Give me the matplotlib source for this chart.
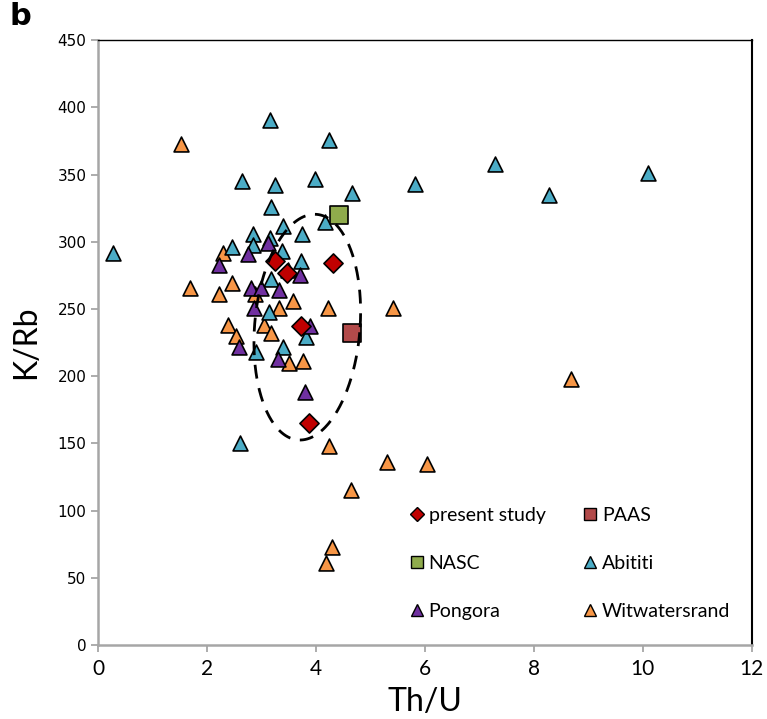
import numpy as np
import matplotlib
matplotlib.use("Agg")
import matplotlib.pyplot as plt
from matplotlib.lines import Line2D

# present study
ps_x = [3.25, 4.31, 3.46, 3.72, 3.88]
ps_y = [286, 284, 277, 237, 165]

paas_x = [4.67]
paas_y = [232]
nasc_x = [4.42]
nasc_y = [320]

abitibi_x = [0.27, 3.15, 4.23, 2.65, 3.24, 3.98, 4.67, 3.17, 4.16, 3.40, 3.75, 2.84,
             3.15, 2.46, 2.84, 3.37, 3.73, 3.48, 3.17, 3.13, 3.81, 3.40, 2.89, 2.61,
             7.29, 10.09, 5.81, 8.28]
abitibi_y = [292, 391, 376, 345, 342, 347, 336, 326, 315, 312, 306, 306,
             303, 296, 298, 293, 286, 279, 272, 248, 229, 222, 218, 150,
             358, 351, 343, 335]

pongora_x = [3.11, 2.75, 2.21, 3.70, 2.81, 2.99, 3.32, 2.87, 3.89, 2.58, 3.30, 3.79]
pongora_y = [299, 291, 283, 275, 266, 266, 264, 251, 237, 222, 213, 188]

witw_x = [1.53, 2.29, 1.68, 2.21, 2.45, 2.88, 3.57, 3.32, 4.22, 2.38, 3.04, 2.54,
          3.18, 3.51, 3.77, 5.42, 4.23, 5.30, 6.03, 4.65, 4.30, 4.19, 8.69]
witw_y = [373, 292, 266, 261, 269, 261, 256, 251, 251, 238, 238, 230,
          232, 210, 211, 251, 148, 136, 135, 115, 73, 61, 198]

# dashed field (center, half-width, half-height, shear)
ell_cx, ell_cy, ell_a, ell_b, ell_shear = 3.84, 236.5, 0.97, 84, 0.0016

fig = plt.figure(figsize=(7.67, 7.19), dpi=100)
ax = fig.add_axes([0.128, 0.103, 0.852, 0.841])

tri_kw = dict(marker='^', s=115, edgecolors='black', linewidths=1.2, zorder=3)
ax.scatter(witw_x, witw_y, c='#f79646', **tri_kw)
ax.scatter(abitibi_x, abitibi_y, c='#4bacc6', **tri_kw)
ax.scatter(pongora_x, pongora_y, c='#7030a0', **tri_kw)
ax.scatter(ps_x, ps_y, marker='D', s=95, c='#c00000', edgecolors='black', linewidths=1.2, zorder=4)
ax.scatter(paas_x, paas_y, marker='s', s=150, c='#b24a4a', edgecolors='black', linewidths=1.2, zorder=4)
ax.scatter(nasc_x, nasc_y, marker='s', s=150, c='#8fab4c', edgecolors='black', linewidths=1.2, zorder=4)

t = np.linspace(0, 2 * np.pi, 300)
ey = ell_cy + ell_b * np.sin(t)
ex = ell_cx + ell_a * np.cos(t) + ell_shear * (ey - ell_cy)
ax.plot(ex, ey, color='black', lw=2, linestyle=(0, (5, 3.5)), zorder=5)

ax.set_xlim(0, 12)
ax.set_ylim(0, 450)
ax.set_xticks(np.arange(0, 13, 2))
ax.set_yticks(np.arange(0, 451, 50))

narrow = ['Lato', 'DejaVu Sans']
for lab in ax.get_xticklabels():
    lab.set_family(narrow)
    lab.set_fontsize(15)
ax.tick_params(axis='y', labelsize=11, length=5, color='#a6a6a6', width=1.3)
ax.tick_params(axis='x', length=5, color='#a6a6a6', width=1.3, pad=5)

for side in ['left', 'bottom']:
    ax.spines[side].set_color('#a6a6a6')
    ax.spines[side].set_linewidth(1.8)
ax.spines['top'].set_linewidth(1.0)
ax.spines['right'].set_linewidth(1.5)

ax.set_xlabel('Th/U', fontsize=23, family=narrow, labelpad=6)
ax.set_ylabel('K/Rb', fontsize=23, family=narrow, labelpad=12)

fig.text(0.012, 0.965, 'b', fontsize=22, fontweight='bold')

def h(marker, color, ms):
    return Line2D([], [], marker=marker, color='none', markerfacecolor=color,
                  markeredgecolor='black', markersize=ms, markeredgewidth=1.0)

handles = [h('D', '#c00000', 7), h('s', '#8fab4c', 9), h('^', '#7030a0', 9),
           h('s', '#b24a4a', 9), h('^', '#4bacc6', 9), h('^', '#f79646', 9)]
labels = ['present study', 'NASC', 'Pongora', 'PAAS', 'Abititi', 'Witwatersrand']
ax.legend(handles, labels, ncol=2, loc='lower left', bbox_to_anchor=(0.452, 0.013),
          frameon=False, handlelength=0.6, handletextpad=0.3, columnspacing=2.0,
          labelspacing=1.58, prop={'family': narrow, 'size': 14})

fig.savefig('out.png', dpi=100)
